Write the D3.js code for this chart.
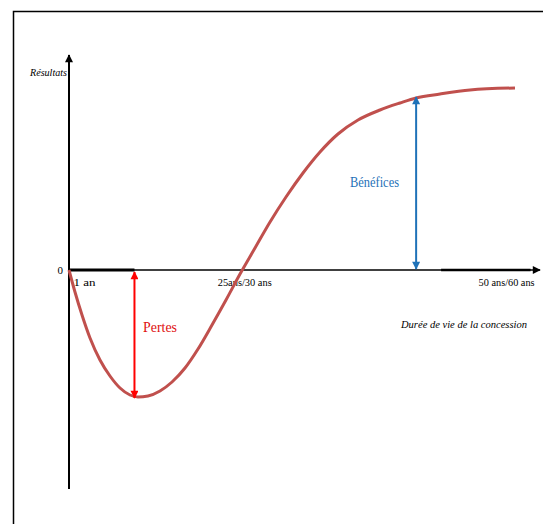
<!DOCTYPE html>
<html><head><meta charset="utf-8">
<script src="https://cdn.jsdelivr.net/npm/d3@7"></script>
<style>
html,body{margin:0;padding:0;background:#fff;}
svg{display:block;}
svg text{font-family:"Liberation Serif","Times New Roman",Times,"DejaVu Serif",serif;}
</style></head>
<body>
<script>
// Curve data (abstract units: x = time along concession life, y = results)
const curveX = [0, 1.27, 2.76, 4.46, 6.58, 8.70, 10.83, 12.95, 14.65, 16.77, 19.32, 21.87, 24.63, 27.39, 30.36, 33.33, 36.31, 39.49, 42.68, 46.07, 49.68, 53.29, 57.11, 61.36, 66.03, 70.28, 73.67, 78.77, 85.14, 94.69];
const curveY = [0, -22, -45, -68, -90, -106, -118, -125, -127, -126, -121, -112, -98, -79, -55, -30, -4, 22, 48, 73, 97, 118, 136, 150, 160, 167, 172, 176, 180, 182];
const xTickValues = [3.2, 37.2, 92.8];
const xTickLabels = ["1 an", "25ans/30 ans", "50 ans/60 ans"];
const yTickValues = [0];
const yTickLabels = ["0"];
const lossX = 13.9;      // position of "Pertes" arrow
const lossY = -127;
const profitX = 73.7;    // position of "Bénéfices" arrow
const profitY = 173;

const W = 543, H = 524;
const serif = "'Liberation Serif','Times New Roman',Times,'DejaVu Serif',serif";
const svg = d3.select("body").append("svg").attr("width", W).attr("height", H);

const x = d3.scaleLinear().domain([0, 100]).range([69, 540]);
const y = d3.scaleLinear().domain([-220, 215]).range([490, 55]);

// frame
svg.append("path").attr("d", `M13.5,${H}V11.5H${W}`).attr("fill","none").attr("stroke","#000").attr("stroke-width",1.5);

const defs = svg.append("defs");
function marker(id, color, w, h) {
  defs.append("marker").attr("id", id).attr("viewBox", "0 0 10 10")
    .attr("refX", 9).attr("refY", 5).attr("markerWidth", w).attr("markerHeight", h)
    .attr("markerUnits","userSpaceOnUse")
    .attr("orient", "auto-start-reverse")
    .append("path").attr("d", "M0,0L10,5L0,10Z").attr("fill", color);
}
marker("blk", "#000", 10, 8);
marker("red", "#ff0000", 9, 8);
marker("blue", "#1f72b8", 9, 8);

// axes lines
svg.append("line").attr("x1", x(0)).attr("x2", x(0)).attr("y1", y(-219)).attr("y2", y(215))
  .attr("stroke","#000").attr("stroke-width",2).attr("marker-end","url(#blk)");
svg.append("line").attr("x1", x(0)).attr("x2", x(100)).attr("y1", y(0)).attr("y2", y(0))
  .attr("stroke","#000").attr("stroke-width",1.6).attr("marker-end","url(#blk)");
svg.append("line").attr("x1", x(0)).attr("x2", x(lossX)).attr("y1", y(0)).attr("y2", y(0))
  .attr("stroke","#000").attr("stroke-width",3);
svg.append("line").attr("x1", x(79)).attr("x2", x(98)).attr("y1", y(0)).attr("y2", y(0))
  .attr("stroke","#000").attr("stroke-width",2.4);

// tick labels via d3 axes
const xAxis = d3.axisBottom(x).tickValues(xTickValues).tickSize(0).tickPadding(8)
  .tickFormat((d,i) => xTickLabels[i]);
const gx = svg.append("g").attr("transform", `translate(0,${y(0)})`).call(xAxis);
gx.attr("font-family", serif);
gx.select(".domain").remove();
gx.selectAll("text").attr("font-size",11).attr("fill","#000")
  .each(function(d,i){ const w=[22,54,56][i]; d3.select(this).attr("textLength",w).attr("lengthAdjust","spacingAndGlyphs"); });

const yAxis = d3.axisLeft(y).tickValues(yTickValues).tickSize(0).tickPadding(6)
  .tickFormat((d,i) => yTickLabels[i]);
const gy = svg.append("g").attr("transform", `translate(${x(0)},0)`).call(yAxis);
gy.attr("font-family", serif);
gy.select(".domain").remove();
gy.selectAll("text").attr("font-size",11).attr("fill","#000");

// curve
const pts = curveX.map((d,i)=>[d, curveY[i]]);
svg.append("path").datum(pts)
  .attr("d", d3.line().x(d=>x(d[0])).y(d=>y(d[1])).curve(d3.curveMonotoneX))
  .attr("fill","none").attr("stroke","#c0504d").attr("stroke-width",3);

// Pertes arrow
svg.append("line").attr("x1", x(lossX)).attr("x2", x(lossX)).attr("y1", y(-2)).attr("y2", y(lossY)+1)
  .attr("stroke","#ff0000").attr("stroke-width",2)
  .attr("marker-start","url(#red)").attr("marker-end","url(#red)");
svg.append("text").attr("x", 143).attr("y", 332).attr("fill","#e01010").attr("font-size",14)
  .attr("font-family", serif)
  .attr("textLength",34).attr("lengthAdjust","spacingAndGlyphs").text("Pertes");

// Bénéfices arrow
svg.append("line").attr("x1", x(profitX)).attr("x2", x(profitX)).attr("y1", y(1)).attr("y2", y(profitY))
  .attr("stroke","#1f72b8").attr("stroke-width",2)
  .attr("marker-start","url(#blue)").attr("marker-end","url(#blue)");
svg.append("text").attr("x", 350).attr("y", 187).attr("fill","#1f72b8").attr("font-size",14)
  .attr("font-family", serif)
  .attr("textLength",49).attr("lengthAdjust","spacingAndGlyphs").text("Bénéfices");

// axis titles
svg.append("text").attr("x", 30).attr("y", 76).attr("font-style","italic").attr("font-size",11)
  .attr("font-family", serif)
  .attr("textLength",37).attr("lengthAdjust","spacingAndGlyphs").text("Résultats");
svg.append("text").attr("x", 401).attr("y", 328).attr("font-style","italic").attr("font-size",11)
  .attr("font-family", serif)
  .attr("textLength",126).attr("lengthAdjust","spacingAndGlyphs").text("Durée de vie de la concession");
</script>
</body></html>
